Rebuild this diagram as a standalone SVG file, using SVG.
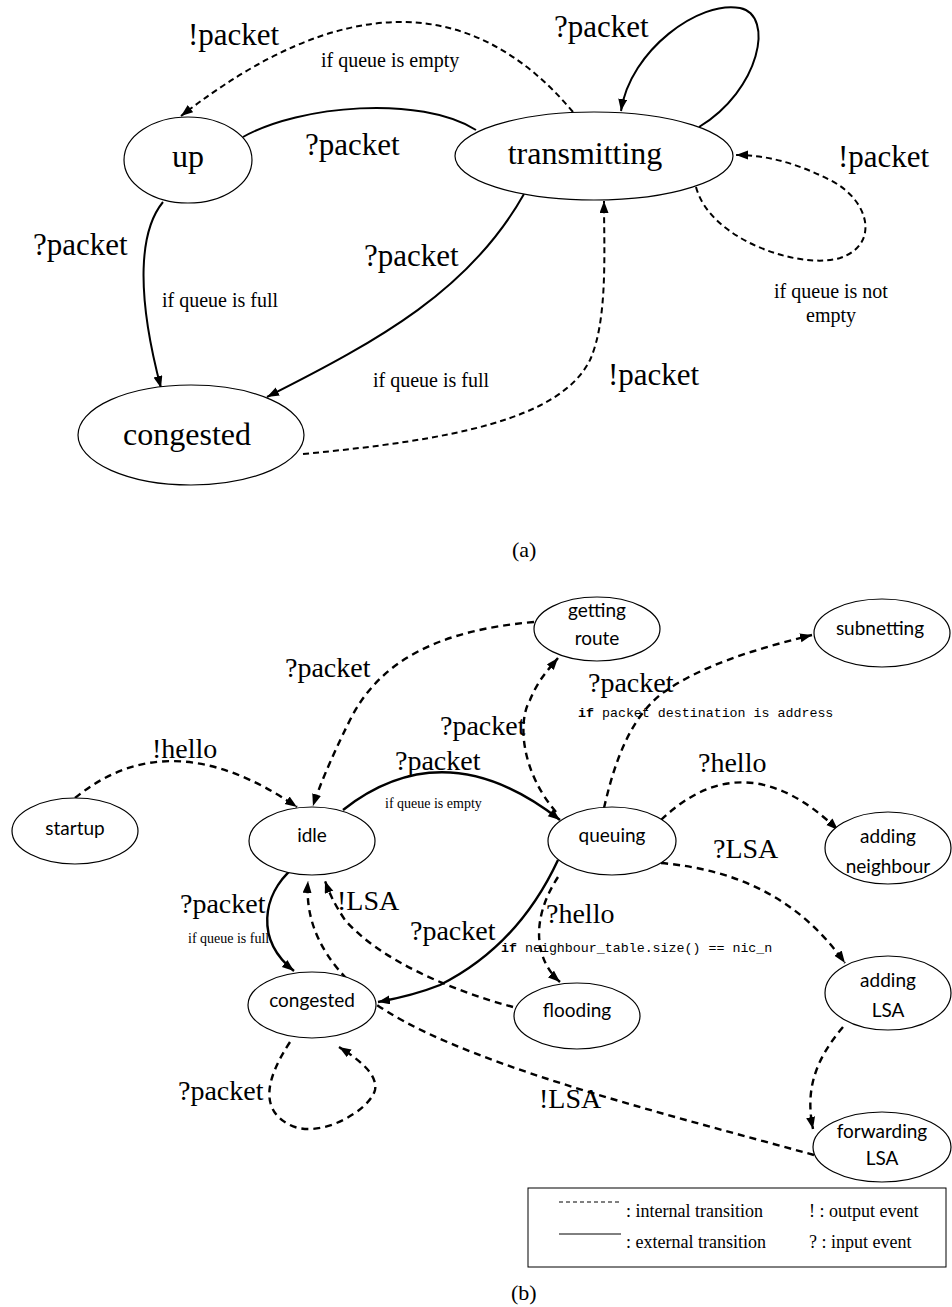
<svg xmlns="http://www.w3.org/2000/svg" width="952" height="1307" viewBox="0 0 952 1307">
<style>
.n{fill:#fff;stroke:#000;stroke-width:1.2}
.e{fill:none;stroke:#000;stroke-width:2}
.d{fill:none;stroke:#000;stroke-width:2;stroke-dasharray:6 4}
.db{fill:none;stroke:#000;stroke-width:2.4;stroke-dasharray:7 5}
.sb{fill:none;stroke:#000;stroke-width:2.4}
.ta{font-family:"Liberation Serif",serif;font-size:32px;fill:#000}
.la{font-family:"Liberation Serif",serif;font-size:31px;fill:#000}
.sa{font-family:"Liberation Serif",serif;font-size:20px;fill:#000}
.lb{font-family:"Liberation Serif",serif;font-size:28px;fill:#000}
.sb2{font-family:"Liberation Serif",serif;font-size:14px;fill:#000}
.mo{font-family:"Liberation Mono",monospace;font-size:13.3px;fill:#000}
.nb{font-family:Lato,"Open Sans",sans-serif;font-size:19px;fill:#000;text-anchor:middle}
.lg{font-family:"Liberation Serif",serif;font-size:18px;fill:#000}
</style>
<defs>
<marker id="arr" markerUnits="userSpaceOnUse" markerWidth="13" markerHeight="10" refX="12" refY="4.5" orient="auto">
<path d="M0,0 L12,4.5 L0,9 z" fill="#000"/>
</marker>
</defs>
<rect width="952" height="1307" fill="#fff"/>

<g id="connectors">
<!-- (a) -->
<path class="e" d="M243,137 C 300,105 420,95 476,130"/>
<path class="d" d="M573,112 Q 420,-70 181,116" marker-end="url(#arr)"/>
<path class="e" d="M699,127 C 760,90 775,15 740,8 C 700,0 630,50 621,111" marker-end="url(#arr)"/>
<path class="d" d="M696,187 C 710,240 800,270 840,258 C 880,245 870,200 830,180 C 800,165 770,155 736,155" marker-end="url(#arr)"/>
<path class="e" d="M163,202 C 140,230 135,290 161,388" marker-end="url(#arr)"/>
<path class="e" d="M524,194 C 470,290 380,340 267,397" marker-end="url(#arr)"/>
<path class="d" d="M303,454 C 450,440 560,420 590,360 C 608,320 604,250 604,201" marker-end="url(#arr)"/>
<!-- (b) -->
<path class="db" d="M534,622 C 440,630 380,660 350,720 C 330,760 318,790 313,806" marker-end="url(#arr)"/>
<path class="db" d="M75,798 Q 170,720 297,807" marker-end="url(#arr)"/>
<path class="sb" d="M343,810 Q 445,730 560,820" marker-end="url(#arr)"/>
<path class="db" d="M556,812 C 520,770 518,720 530,700 C 538,680 548,670 558,658" marker-end="url(#arr)"/>
<path class="db" d="M604,808 C 615,760 630,720 660,695 C 700,665 760,648 812,635" marker-end="url(#arr)"/>
<path class="db" d="M661,820 Q 745,740 838,830" marker-end="url(#arr)"/>
<path class="db" d="M661,863 C 740,870 800,900 845,963" marker-end="url(#arr)"/>
<path class="sb" d="M293,868 C 262,895 255,940 294,971" marker-end="url(#arr)"/>
<path class="sb" d="M558,860 C 530,920 490,960 440,985 C 420,993 400,998 378,1002" marker-end="url(#arr)"/>
<path class="db" d="M558,877 C 530,920 535,960 560,982" marker-end="url(#arr)"/>
<path class="db" d="M513,1007 C 450,990 380,960 345,920 C 335,905 330,895 325,881" marker-end="url(#arr)"/>
<path class="db" d="M814,1155 C 650,1110 450,1060 370,1000 C 320,960 305,920 308,881" marker-end="url(#arr)"/>
<path class="db" d="M290,1042 C 265,1080 260,1110 290,1125 C 320,1140 370,1110 375,1090 C 378,1075 360,1060 339,1047" marker-end="url(#arr)"/>
<path class="db" d="M843,1027 C 815,1060 805,1090 813,1129" marker-end="url(#arr)"/>
</g>

<!-- (a) nodes -->
<g id="a-up"><ellipse class="n" cx="188" cy="160" rx="64" ry="43"/><text class="ta" x="188" y="167" text-anchor="middle">up</text></g>
<g id="a-transmitting"><ellipse class="n" cx="594" cy="156" rx="139" ry="44"/><text class="ta" x="585" y="164" text-anchor="middle">transmitting</text></g>
<g id="a-congested"><ellipse class="n" cx="191" cy="435" rx="113" ry="50"/><text class="ta" x="187" y="445" text-anchor="middle">congested</text></g>

<!-- (b) nodes -->
<g id="b-startup"><ellipse class="n" cx="75" cy="831" rx="63" ry="33"/><text class="nb" x="75" y="835">startup</text></g>
<g id="b-idle"><ellipse class="n" cx="312" cy="841" rx="63" ry="34"/><text class="nb" x="312" y="842">idle</text></g>
<g id="b-queuing"><ellipse class="n" cx="612" cy="841" rx="64" ry="34"/><text class="nb" x="612" y="842">queuing</text></g>
<g id="b-getting-route"><ellipse class="n" cx="597" cy="629" rx="63" ry="32"/><text class="nb" x="597" y="617">getting</text><text class="nb" x="597" y="645">route</text></g>
<g id="b-subnetting"><ellipse class="n" cx="882" cy="633" rx="68" ry="34"/><text class="nb" x="880" y="635">subnetting</text></g>
<g id="b-adding-neighbour"><ellipse class="n" cx="888" cy="848" rx="63" ry="36"/><text class="nb" x="888" y="843">adding</text><text class="nb" x="888" y="873">neighbour</text></g>
<g id="b-congested"><ellipse class="n" cx="312" cy="1005" rx="64" ry="33"/><text class="nb" x="312" y="1007">congested</text></g>
<g id="b-flooding"><ellipse class="n" cx="577" cy="1016" rx="63" ry="33"/><text class="nb" x="577" y="1017">flooding</text></g>
<g id="b-adding-lsa"><ellipse class="n" cx="888" cy="993" rx="63" ry="37"/><text class="nb" x="888" y="987">adding</text><text class="nb" x="888" y="1017">LSA</text></g>
<g id="b-forwarding-lsa"><ellipse class="n" cx="882" cy="1147" rx="69" ry="35"/><text class="nb" x="882" y="1138">forwarding</text><text class="nb" x="882" y="1165">LSA</text></g>

<g id="labels">
<!-- (a) -->
<text class="la" x="188" y="45">!packet</text>
<text class="sa" x="321" y="67">if queue is empty</text>
<text class="la" x="305" y="155">?packet</text>
<text class="la" x="554" y="37">?packet</text>
<text class="la" x="838" y="167">!packet</text>
<text class="la" x="33" y="255">?packet</text>
<text class="sa" x="162" y="307">if queue is full</text>
<text class="la" x="364" y="266">?packet</text>
<text class="sa" x="373" y="387">if queue is full</text>
<text class="la" x="608" y="385">!packet</text>
<text class="sa" x="831" y="298" text-anchor="middle">if queue is not</text>
<text class="sa" x="831" y="322" text-anchor="middle">empty</text>
<text class="sa" x="512" y="557" style="font-size:22px">(a)</text>
<!-- (b) -->
<text class="lb" x="285" y="677">?packet</text>
<text class="lb" x="152" y="758">!hello</text>
<text class="lb" x="440" y="735">?packet</text>
<text class="lb" x="395" y="770">?packet</text>
<text class="sb2" x="385" y="808">if queue is empty</text>
<text class="lb" x="588" y="692">?packet</text>
<text class="mo" x="578" y="717"><tspan font-weight="bold">if</tspan> packet destination is address</text>
<text class="lb" x="698" y="772">?hello</text>
<text class="lb" x="713" y="858">?LSA</text>
<text class="lb" x="180" y="913">?packet</text>
<text class="sb2" x="188" y="943">if queue is full</text>
<text class="lb" x="337" y="910">!LSA</text>
<text class="lb" x="410" y="940">?packet</text>
<text class="lb" x="546" y="923">?hello</text>
<text class="mo" x="501" y="952"><tspan font-weight="bold">if</tspan> neighbour_table.size() == nic_n</text>
<text class="lb" x="178" y="1100">?packet</text>
<text class="lb" x="539" y="1108">!LSA</text>
<text class="sa" x="511" y="1300" style="font-size:22px">(b)</text>
</g>

<g id="legend">
<rect x="528" y="1188" width="418" height="79" fill="none" stroke="#000" stroke-width="1"/>
<line x1="559" y1="1202" x2="619" y2="1202" stroke="#000" stroke-width="1" stroke-dasharray="4 3"/>
<line x1="559" y1="1234" x2="621" y2="1234" stroke="#000" stroke-width="1"/>
<text class="lg" x="626" y="1217">:  internal transition</text>
<text class="lg" x="626" y="1248">:  external transition</text>
<text class="lg" x="809" y="1217">! : output event</text>
<text class="lg" x="809" y="1248">? : input event</text>
</g>
</svg>
